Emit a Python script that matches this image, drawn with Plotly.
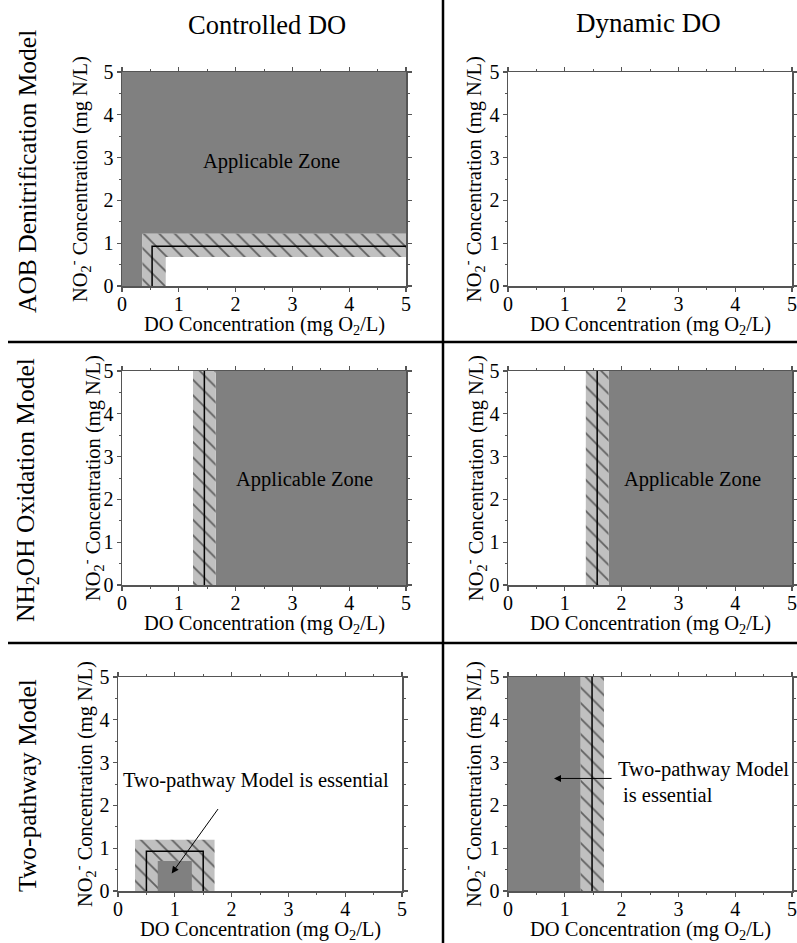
import plotly.graph_objects as go

W, H = 797, 943
FONT = "Liberation Serif, Times New Roman, Times, Nimbus Roman, DejaVu Serif, serif"

# ---------------- data ----------------
tick_vals = [0, 1, 2, 3, 4, 5]
tick_text = ["0", "1", "2", "3", "4", "5"]
axis_range = [0, 5]

col_titles = ["Controlled DO", "Dynamic DO"]
row_titles = ["AOB Denitrification Model", "NH<sub>2</sub>OH Oxidation Model", "Two-pathway Model"]
x_title = "DO Concentration (mg O<sub>2</sub>/L)"
y_title = "NO<sub>2</sub><sup>-</sup> Concentration (mg N/L)"
zone_label = "Applicable Zone"

# AOB denitrification model, controlled DO
aob_ctrl_zone_x = [0, 0.36, 0.36, 5, 5, 0]
aob_ctrl_zone_y = [0, 0, 1.22, 1.22, 5, 5]
aob_ctrl_band_x = [0.36, 0.77, 0.77, 5, 5, 0.36]
aob_ctrl_band_y = [0, 0, 0.68, 0.68, 1.22, 1.22]
aob_ctrl_edge_x = [0.53, 0.53, 5]
aob_ctrl_edge_y = [0, 0.93, 0.93]

# NH2OH oxidation model, controlled DO
nh2oh_ctrl_zone_x = [1.65, 5, 5, 1.65]
nh2oh_ctrl_zone_y = [0, 0, 5, 5]
nh2oh_ctrl_band_x = [1.25, 1.65, 1.65, 1.25]
nh2oh_ctrl_band_y = [0, 0, 5, 5]
nh2oh_ctrl_edge_x = [1.45, 1.45]
nh2oh_ctrl_edge_y = [0, 5]

# NH2OH oxidation model, dynamic DO
nh2oh_dyn_zone_x = [1.77, 5, 5, 1.77]
nh2oh_dyn_zone_y = [0, 0, 5, 5]
nh2oh_dyn_band_x = [1.37, 1.77, 1.77, 1.37]
nh2oh_dyn_band_y = [0, 0, 5, 5]
nh2oh_dyn_edge_x = [1.57, 1.57]
nh2oh_dyn_edge_y = [0, 5]

# Two-pathway model, controlled DO
two_ctrl_band_x = [0.3, 1.7, 1.7, 0.3]
two_ctrl_band_y = [0, 0, 1.2, 1.2]
two_ctrl_zone_x = [0.7, 1.3, 1.3, 0.7]
two_ctrl_zone_y = [0, 0, 0.7, 0.7]
two_ctrl_edge_x = [0.5, 0.5, 1.5, 1.5]
two_ctrl_edge_y = [0, 0.93, 0.93, 0]

# Two-pathway model, dynamic DO
two_dyn_zone_x = [0, 1.28, 1.28, 0]
two_dyn_zone_y = [0, 0, 5, 5]
two_dyn_band_x = [1.28, 1.69, 1.69, 1.28]
two_dyn_band_y = [0, 0, 5, 5]
two_dyn_edge_x = [1.48, 1.48]
two_dyn_edge_y = [0, 5]

# ---------------- styles ----------------
DARK = "#808080"
LIGHT = "#c0c0c0"
AXC = "#555555"


def px(x):
    return min(1.0, max(0.0, x / W))


def py(y):
    return min(1.0, max(0.0, 1 - y / H))


# panel pixel boxes in window coordinates (left, top, right, bottom)
panels = {
    1: (122, 72, 406, 286),
    2: (508, 72, 792, 286),
    3: (122, 371, 406, 585),
    4: (508, 371, 792, 585),
    5: (118, 677, 402, 891),
    6: (508, 677, 792, 891),
}
ytitle_x = {1: 79, 2: 473, 3: 92, 4: 475, 5: 84, 6: 473}

fig = go.Figure()


def ax_names(i):
    return ("x" if i == 1 else f"x{i}"), ("y" if i == 1 else f"y{i}")


def add_zone(i, xs, ys):
    xa, ya = ax_names(i)
    fig.add_trace(go.Scatter(x=xs, y=ys, fill="toself", mode="lines",
                             line=dict(width=0, color=DARK), fillcolor=DARK,
                             hoverinfo="skip", showlegend=False, xaxis=xa, yaxis=ya))


def add_band(i, xs, ys):
    xa, ya = ax_names(i)
    fig.add_trace(go.Scatter(x=xs, y=ys, fill="toself", mode="lines",
                             line=dict(width=0, color=LIGHT), fillcolor=LIGHT,
                             fillpattern=dict(shape="\\", fgcolor="black", bgcolor=LIGHT,
                                              size=11, solidity=0.16),
                             hoverinfo="skip", showlegend=False, xaxis=xa, yaxis=ya))


def add_edge(i, xs, ys):
    xa, ya = ax_names(i)
    fig.add_trace(go.Scatter(x=xs, y=ys, mode="lines",
                             line=dict(width=1.5, color="black"),
                             hoverinfo="skip", showlegend=False, xaxis=xa, yaxis=ya))


# panel 1
add_zone(1, aob_ctrl_zone_x, aob_ctrl_zone_y)
add_band(1, aob_ctrl_band_x, aob_ctrl_band_y)
add_edge(1, aob_ctrl_edge_x, aob_ctrl_edge_y)
# panel 2: empty frame
fig.add_trace(go.Scatter(x=[None], y=[None], mode="lines", showlegend=False,
                         hoverinfo="skip", xaxis="x2", yaxis="y2"))
# panel 3
add_zone(3, nh2oh_ctrl_zone_x, nh2oh_ctrl_zone_y)
add_band(3, nh2oh_ctrl_band_x, nh2oh_ctrl_band_y)
add_edge(3, nh2oh_ctrl_edge_x, nh2oh_ctrl_edge_y)
# panel 4
add_zone(4, nh2oh_dyn_zone_x, nh2oh_dyn_zone_y)
add_band(4, nh2oh_dyn_band_x, nh2oh_dyn_band_y)
add_edge(4, nh2oh_dyn_edge_x, nh2oh_dyn_edge_y)
# panel 5
add_band(5, two_ctrl_band_x, two_ctrl_band_y)
add_zone(5, two_ctrl_zone_x, two_ctrl_zone_y)
add_edge(5, two_ctrl_edge_x, two_ctrl_edge_y)
# panel 6
add_zone(6, two_dyn_zone_x, two_dyn_zone_y)
add_band(6, two_dyn_band_x, two_dyn_band_y)
add_edge(6, two_dyn_edge_x, two_dyn_edge_y)

layout = dict(
    width=W, height=H, margin=dict(l=0, r=0, t=0, b=0, autoexpand=False),
    paper_bgcolor="white", plot_bgcolor="white", showlegend=False,
    font=dict(family=FONT, color="black", size=20),
)

annotations = []
shapes = []
for i, (l, t, r, b) in panels.items():
    xkey = "xaxis" if i == 1 else f"xaxis{i}"
    ykey = "yaxis" if i == 1 else f"yaxis{i}"
    xa, ya = ax_names(i)
    common = dict(range=axis_range, tickvals=tick_vals, ticktext=tick_text,
                  showgrid=False, zeroline=False, showline=True, linecolor=AXC,
                  linewidth=1.5, mirror="ticks", ticks="outside", ticklen=4,
                  tickwidth=1.2, tickcolor=AXC, fixedrange=True,
                  tickfont=dict(family=FONT, size=20, color="black"),
                  minor=dict(dtick=0.5, ticks="outside", ticklen=2, tickcolor=AXC, tickwidth=1))
    layout[xkey] = dict(domain=[px(l), px(r)], anchor=ya, ticklabelstandoff=-5, **common)
    layout[ykey] = dict(domain=[py(b), py(t)], anchor=xa, ticklabelstandoff=-1, **common)
    # axis titles
    annotations.append(dict(text=x_title, xref="paper", yref="paper",
                            x=px((l + r) / 2), y=py(b + 39),
                            xanchor="center", yanchor="middle", showarrow=False,
                            font=dict(family=FONT, size=20.5)))
    annotations.append(dict(text=y_title, xref="paper", yref="paper",
                            x=px(ytitle_x[i]), y=py((t + b) / 2), textangle=-90,
                            xanchor="center", yanchor="middle", showarrow=False,
                            font=dict(family=FONT, size=20.5)))

# Column titles
annotations.append(dict(text=col_titles[0], xref="paper", yref="paper", x=px(267), y=py(25),
                        showarrow=False, xanchor="center", yanchor="middle",
                        font=dict(family=FONT, size=26.5)))
annotations.append(dict(text=col_titles[1], xref="paper", yref="paper", x=px(648), y=py(23),
                        showarrow=False, xanchor="center", yanchor="middle",
                        font=dict(family=FONT, size=27)))
# Row titles
for txt, yc in zip(row_titles, [172, 490, 786]):
    annotations.append(dict(text=txt, xref="paper", yref="paper", x=px(27), y=py(yc),
                            textangle=-90, showarrow=False, xanchor="center", yanchor="middle",
                            font=dict(family=FONT, size=25.5)))

# Applicable zone labels
annotations.append(dict(text=zone_label, xref="x", yref="y", x=2.64, y=2.92, showarrow=False,
                        font=dict(family=FONT, size=20.5)))
annotations.append(dict(text=zone_label, xref="x3", yref="y3", x=3.22, y=2.47, showarrow=False,
                        font=dict(family=FONT, size=20.5)))
annotations.append(dict(text=zone_label, xref="x4", yref="y4", x=3.24, y=2.47, showarrow=False,
                        font=dict(family=FONT, size=20.5)))

# Two-pathway annotations
annotations.append(dict(text="Two-pathway Model is essential", xref="x5", yref="y5", x=0.05, y=2.59,
                        xanchor="left", yanchor="middle", showarrow=False,
                        font=dict(family=FONT, size=20.5)))
annotations.append(dict(text="", xref="x5", yref="y5", x=0.945, y=0.41, axref="x5", ayref="y5",
                        ax=1.78, ay=1.95, showarrow=True, arrowhead=2, arrowsize=1.4,
                        arrowwidth=1, arrowcolor="black"))
annotations.append(dict(text="Two-pathway Model", xref="x6", yref="y6", x=1.9, y=2.83,
                        xanchor="left", yanchor="middle", showarrow=False,
                        font=dict(family=FONT, size=20.5)))
annotations.append(dict(text="is essential", xref="x6", yref="y6", x=1.99, y=2.24,
                        xanchor="left", yanchor="middle", showarrow=False,
                        font=dict(family=FONT, size=20.5)))
annotations.append(dict(text="", xref="x6", yref="y6", x=0.81, y=2.63, axref="x6", ayref="y6",
                        ax=1.85, ay=2.63, showarrow=True, arrowhead=2, arrowsize=1.4,
                        arrowwidth=1, arrowcolor="black"))

# Separator lines
shapes.append(dict(type="line", xref="paper", yref="paper", x0=px(443), x1=px(443), y0=0, y1=1,
                   line=dict(color="black", width=2.5)))
for yy in [342, 643]:
    shapes.append(dict(type="line", xref="paper", yref="paper", x0=px(8), x1=1, y0=py(yy),
                       y1=py(yy), line=dict(color="black", width=2.5)))

layout["annotations"] = annotations
layout["shapes"] = shapes
fig.update_layout(**layout)

# remove the default page margin so the figure fills the 797x943 window exactly
fig.write_html("out.html",
               config={"displayModeBar": False, "staticPlot": True},
               post_script="document.body.style.margin='0px';document.body.style.overflow='hidden';")
